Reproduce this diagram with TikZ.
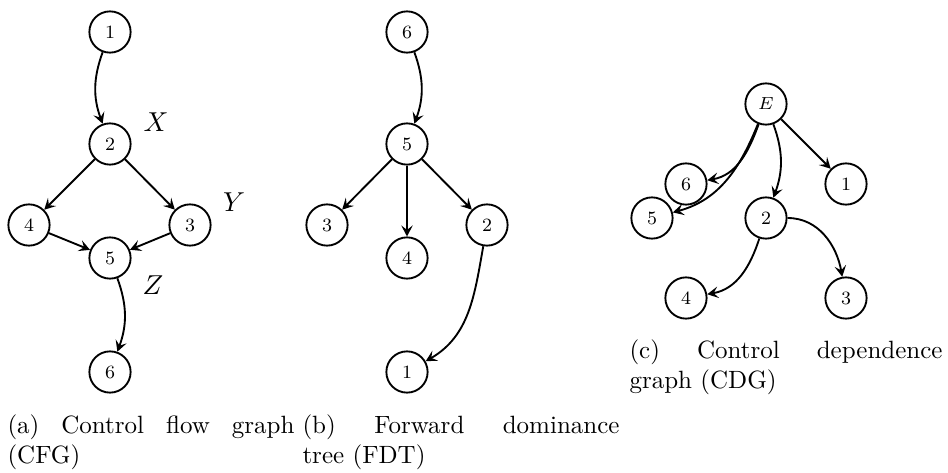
\documentclass[tikz,border=0pt]{standalone}
\usetikzlibrary{arrows.meta}
\begin{document}
\begin{tikzpicture}[x=0.4pt,y=-0.4pt,
  vnode/.style={circle,draw,line width=0.75pt,minimum size=16.5pt,inner sep=0pt,font=\fontsize{7.5}{9}\selectfont},
  edge/.style={line width=0.75pt,-{Stealth[length=4.4pt,width=4.6pt,inset=1.8pt]}},
  lab/.style={inner sep=0pt,font=\fontsize{11}{13}\selectfont},
  capbox/.style={anchor=base west,inner sep=0pt,align=justify,font=\fontsize{10}{12}\selectfont}]
\useasboundingbox (0,0) rectangle (948,473);
% (a) CFG
\node[vnode] (a1) at (110,32) {1};
\node[vnode] (a2) at (110,144) {2};
\node[vnode] (a4) at (29,225) {4};
\node[vnode] (a3) at (190,225) {3};
\node[vnode] (a5) at (110,258) {5};
\node[vnode] (a6) at (110,372) {6};
\node[lab] (lx) at (156,122) {$X$};
\node[lab] (ly) at (234,202) {$Y$};
\node[lab] (lz) at (153,285) {$Z$};
\draw[edge] (a1) to[bend right=20] (a2);
\draw[edge] (a2) -- (a4);
\draw[edge] (a2) -- (a3);
\draw[edge] (a4) -- (a5);
\draw[edge] (a3) -- (a5);
\draw[edge] (a5) to[bend left=20] (a6);
% (b) FDT
\node[vnode] (b6) at (407,32) {6};
\node[vnode] (b5) at (407,144) {5};
\node[vnode] (b3) at (327,225) {3};
\node[vnode] (b4) at (407,258) {4};
\node[vnode] (b2) at (487,225) {2};
\node[vnode] (b1) at (407,372) {1};
\draw[edge] (b6) to[bend left=20] (b5);
\draw[edge] (b5) -- (b3);
\draw[edge] (b5) -- (b4);
\draw[edge] (b5) -- (b2);
\draw[edge] (b2) to[out=260,in=30] (b1);
% (c) CDG
\node[vnode] (cE) at (766,104) {$E$};
\node[vnode] (c6) at (686,184) {6};
\node[vnode] (c1) at (846,184) {1};
\node[vnode] (c5) at (652,218) {5};
\node[vnode] (c2) at (766,218) {2};
\node[vnode] (c4) at (686,298) {4};
\node[vnode] (c3) at (846,298) {3};
\draw[edge] (cE) -- (c1);
\draw[edge] (cE) to[bend left=20] (c2);
\draw[edge] (cE) to[out=250,in=10] (c6);
\draw[edge] (cE) to[out=248,in=15] (c5);
\draw[edge] (c2) to[out=252,in=10] (c4);
\draw[edge] (c2) to[out=0,in=100] (c3);
% captions
\node[capbox,text width=114.8pt] (capa) at (7,433) {(a) Control flow graph\linebreak (CFG)};
\node[capbox,text width=126.8pt] (capb) at (302,433) {(b) Forward dominance\linebreak tree (FDT)};
\node[capbox,text width=125.2pt] (capc) at (629,358) {(c) Control dependence\linebreak graph (CDG)};
\end{tikzpicture}
\end{document}
